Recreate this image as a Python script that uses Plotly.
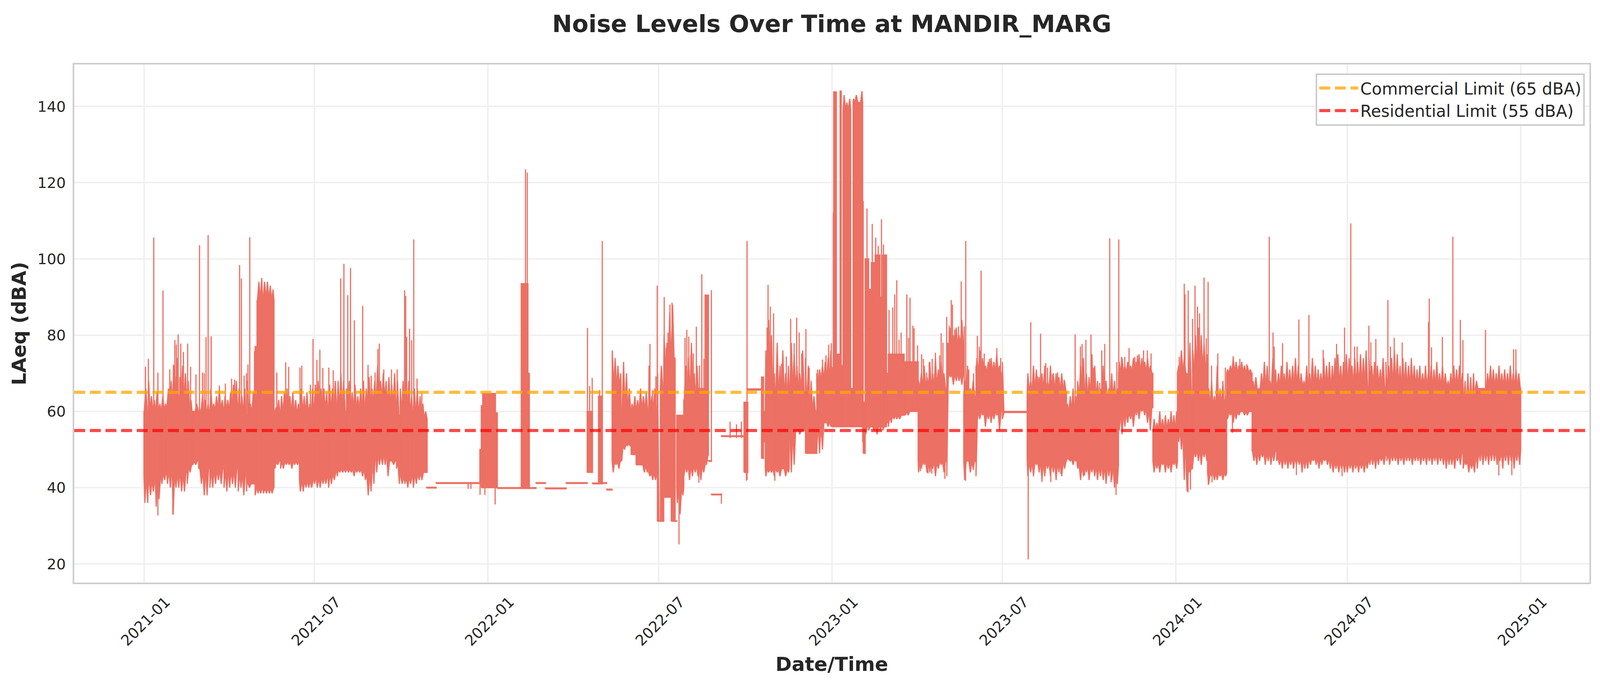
import pandas as pd
import plotly.graph_objects as go

START = pd.Timestamp("2021-01-01")

# Solid part of the series: days since 2021-01-01 and dBA.
seg_start = [0,5,12,18,24,30,38,46,51,58,70,85,100,108,110,118,120,126,138.5,145,165,180,195,205,215,234,242,246,258,268,272,285,
             300,310,356.5,358,359.5,373,375,400.4,404,407.5,409,416,426,448,470.4,476,482.4,486.4,491,
             496.8,506.3,517,522.3,535.6,544.9,548.1,551.6,559.6,563.6,565.4,572.9,588.9,595.5,599,602.2,612.8,636.8,640.8,655.4,657.5,659.4,670,684.7,702,714,
             730,732,734.8,738.8,740,742,750,752.6,762.7,763.3,765.4,769,772,776,781,784,788,790,806.7,821.6,852,870,883,911,937.3,979,990.3,1034.2,1052,1070.7,1096.8,1106,1112.8,
             1128.7,1149,1176,1202,1260,1300,1318,1319,1400,1413]
seg_end = [5,12,18,24,30,38,46,51,58,70,85,100,108,110,118,120,126,138,145,165,180,195,205,215,234,242,246,258,268,272,285,300.5,
           310,356.5,358,359.5,373,375,400.4,404,407.5,409,416,426,448,470.4,476,482.4,486.4,491,496.8,
           506.3,517,522.3,535.6,544.9,548.1,551.6,559.6,563.6,565.4,572.9,588.9,595.5,599,602.2,612.8,636.8,640.8,655.4,657.5,659.4,670,684.7,702,714,730,
           732,734.8,738.8,740,742,750,752.6,762.7,763.3,765.4,769,772,776,781,784,788,790,806.7,821.6,852,870,883,911,937,979,990.3,1034.2,1052,1070.7,1096.8,1106,1112.8,1128.7,
           1149,1176,1202,1260,1300,1318,1319,1400,1413,1461]
seg_low = [43,42,43,44,45,44,44,46,47,45,45,45,44,52,41,40,40,40,47,47,42,43,44,45,45,44,49,49,47,47,43,44,
           39.9,41.1,41,40,40,40,39.8,39.8,39.8,39.8,39.8,41.1,39.7,41.1,44,41,41,41.1,39.4,
           47,51.4,48.7,46,44,31.2,31.2,37.5,31.2,31.2,40,46,46,48.6,46.9,38.1,53.4,44,65.6,47.7,52,45,45,55,49,57.3,
           56,56,56,56,56,56,56,56,52,49,56,56,56,56,56,56,57,59,60,47,70,47,60,59.7,47,47.5,46,60,61,47,55,45,50,
           44,60,49.5,48,47,48.5,51,49,47,50]
seg_high = [60,60,60,60,61,64,63,60,60,59,60,60,59,59,59,77,89,89,59,59,59,60,60,60,60,61,62,63,61,59,59,58,
            40.1,41.3,50,61.5,64.7,59.6,40,93.5,93.5,70,40,41.3,39.9,41.3,60,41.2,64,41.3,39.6,
            66,60,60,60,60,31.3,66,70,74,31.3,59,63,66,90.5,47.1,38.3,53.6,62.4,65.9,69,60,63,63,65,60,68,
            71.5,143.8,75,144,72,139,66,141,115,62.4,100,92,99,101,90,101,70,75,73,66,77,64,70,60,65,59.5,63,70,70,55,70,64,70,
            61,70,65.5,66,66.5,66.5,66.5,66,61,66]

# Peaks rising out of the solid part.
peak_day = [1.6,4.7,10.4,14.8,20.2,27.4,31.2,32.8,34.4,36.3,39.1,41.9,46.4,49.5,55.2,59,62.1,64,65.9,68.1,71.3,80.1,86.4,93,96.2,101.5,103.4,106.3,108.8,110.4,112.3,117.3,
            141,150.4,153.6,165.6,167.5,176.6,179.4,183.5,186.7,189.8,196.2,200.9,208.8,212.2,216.3,219.2,223.3,232.1,237.8,241.2,245.3,248.2,249.8,254.5,262.7,268.7,276.6,277.8,278.8,281.9,284.1,286.3,289.8,294.9,
            404.9,406.8,537,539.6,543.3,544.7,552.1,554.2,556.1,558.2,560.4,563.6,574.2,576.1,578.2,580.3,583,586.2,589.6,592,594.2,
            661.3,662.3,664.7,666.6,668.2,671.9,676.7,681.7,686.3,690,692.7,695.3,698,702.5,706,714.8,720.1,723.8,726.7,729.4,731.6,
            767.3,772.9,776.6,779.2,782.7,784.8,786.7,790.7,794.7,796.8,798.9,801.3,803.5,806.9,809.6,811.4,813,816,817.3,821,825.3,827.2,830.6,833.3,836.5,839.9,844.5,846,847.9,
            851.9,854.5,856.7,858,860.4,864.4,867.3,870.5,872.1,875.3,880.4,884.4,886.5,888.4,891.8,897.2,905.1,909.1,
            941.1,948.3,951.5,957,958.9,964.2,969.6,976.5,988.2,993.8,995.6,999.6,1005,1007.6,1014.3,1016.4,1019.6,1024.9,1027.6,1032.4,1034.5,1037.4,1040.9,1045.4,1051.5,1054.2,1060.8,1064.8,1068.8,
            1098.7,1104,1104.8,1108.2,1110.1,1112.8,1115.4,1118,1120.2,1125,1127.4,1129.3,1133,1139.6,1147.6,1155.9,1163,1170.3,
            1194.2,1198.2,1199.5,1208.3,1225.6,1236.3,1251.4,1265.6,1274.1,1280.7,1284.7,1287.4,1299.9,1302,1307.3,1320.1,1322.8,1326.8,1335.3,1363.2,1364,1366.4,1377.9,1389,1397,1399.7,1423.7,1453.5,1455.9]
peak_val = [71.7,73.8,105.6,70.2,91.7,71,72.3,78.7,77.5,80.2,77.8,75.6,77.8,71.7,69.7,103.6,70.2,70,79.5,106.2,79.7,66.8,67.3,68.6,68.3,98.4,94.9,69.4,70,72.3,105.7,75.8,
            70.2,72.9,71.7,71.5,72,67,79,73.5,76.2,71.4,71.5,70.8,94.9,98.7,90.5,97.6,83.9,87.7,72.2,69.4,70.2,76.4,77.8,71,71,71,91.8,90.3,79.6,81.7,78.7,105.1,68.6,64.8,
            123.5,122.6,77.7,65.6,69.2,93,90,76.6,80.7,88,88.5,73.8,79.3,81.4,79.6,74.7,75.2,82.2,72,96,73.8,
            82,93.2,87.5,73.8,85.7,74.7,72.5,74.4,84.3,77.9,84.6,80.7,75.2,81.6,71.5,71,73.6,74.7,77.5,77.9,112.2,
            113.2,109.2,105.6,103.4,110.4,103.8,101,86.6,87.3,90.7,94.4,78.8,80.7,71.5,90.7,79.3,89.8,82.5,81.8,77.3,75,73.8,70.2,72.9,73.8,75.4,74.7,80.5,78,
            84.8,82.5,89.2,88,81.5,82.3,94.1,82.3,104.7,71,70,79.8,77,96.9,75.2,73.8,76.6,74,
            83.4,69.2,80.4,72.7,71.5,69.7,70.2,68.3,80.2,77,77.7,78.8,80.2,71.5,67.5,76,77.7,105.4,67.5,72.9,105.1,74.3,74.3,76.6,74.3,74.7,76,76,75.2,
            74.3,93.5,90.7,91.7,76,84.3,93,87.5,85.7,95.1,79.2,94,72,75.2,71.5,74.5,73.8,72.4,
            105.8,80.7,77,77.9,84.1,85.3,76.1,77.7,82,109.3,77,77,82.5,78.1,79,89.2,77,79.3,78.1,83.4,89.6,76.8,79.5,105.8,84,78.7,81.4,76.3,76.3]

# Dips falling out of the solid part.
dip_day = [14.8,30.6,356.7,361.8,372.7,567.8,588.9,639.4,669.5,
           824,832,836,850,871.9,880.1,938.4,953,962.4,973,998.3,1011.6,1026.3,1031.6,1108,1110.6,1129.5,1133.5,
           1223,1271.5,1437.8,1451.6]
dip_val = [32.7,32.9,38.1,38.1,35.6,25.1,41.3,41.8,41.8,
           44.3,43.7,43.7,42.3,41.8,44.6,21.2,41.5,41.5,43.6,43.2,42.3,41.4,38.1,38.8,39.5,40.7,41.4,
           43.3,43,43.2,43.3]

# Finer reading of the jagged upper and lower edge, one reading every third day per stretch.
upper_first = [2,497,549,575,660,743,753,822,853,871,884,938,980,991,1035,1072,1098,1130,1150,1177]
upper_edges = [
 [66,68,64,63,65,62,64,62,66,68,72,74,69,72,70,68,63,60,62,61,64,63,62,66,62,64,66,63,64,63,65,67,68,66,64,66,68,62,65,72,
  94,95,94,94,93,92,61,63,64,65,66,64,65,63,62,66,64,65,62,66,67,68,66,66,65,67,66,68,68,70,68,66,68,65,67,64,66,68,66,69,
  66,68,72,68,70,68,69,67,70,68,66,68,72,68,64,66,66,64,62,60],
 [76,74,72,70,73,70,66,62,64,63,66,64,65,72,64,66,70],
 [72,80,78,86,88],
 [72,74,78,70,72],
 [76,84,80,70,78,72,76,70,72,78,75,72,70,76,74,72,68,64,70,71,72,73,74,76],
 [143,141,142],
 [142,143,141,144],
 [68,70,72,69,73,70,74,71,73,70,72],
 [78,82,80,82,80,84],
 [68,72,66,68,72],
 [74,76,74,72,73,74,73,75,72,73],
 [70,68,72,71,69,70,72,68,72,70,70,69,70,68],
 [62,64,66,64],
 [68,72,74,70,69,75,72,68,66,72,68,66,70,68,66],
 [73,74,72,73,72,74,73,75,74,73,74,72],
 [58,57,60,58,59,58,60,59,60],
 [72,76,74,70,78,76,80,82,80,78,75],
 [66,68,64,72,66,68,64],
 [71,72,74,73,72,73,72,72,71],
 [68,69,66,70,73,72,68,74,71,70,72,70,73,71,72,74,72,70,68,72,70,74,72,71,70,74,72,73,72,74,
  75,72,73,75,74,72,74,73,75,74,76,74,72,73,72,71,74,73,72,74,76,75,72,74,73,72,74,72,71,72,
  70,72,70,72,71,73,70,72,70,68,70,72,71,72,70,68,70,69,70,68,66,65,66,70,72,71,70,72,70,71,70,72,70,71,70],
]
lower_first = [1,498,566,573,660,766,822,853,871,884,938,980,991,1035,1072,1098,1130,1150,1178]
lower_edges = [
 [36,36,38,39,35,37,41,42,41,40,33,40,40,39,39,41,44,46,46,45,41,38,38,40,40,41,42,41,40,39,40,41,40,39,40,38,39,40,41,38,
  38.5,38.5,38.5,38.5,38.5,38.5,45,46,45,45,46,46,45,46,46,39,39,40,40,40,41,40,40,41,41,40,41,42,43,44,44,44,44,44,43,44,44,43,42,38,
  39,41,44,46,46,46,43,47,46,45,41,41,41,40,41,40,41,42,42,44],
 [44,46,45,47,50,51,51,51,50,47,46,44,44,43,42,42],
 [36,33,38],
 [43,44,42,43,44,43,42,44,46],
 [43,44,44,43,44,43,45,43,44,44,46,55,54,55,54,53,49,49,50,49,50,57,56,56],
 [54,55,56,55,54,55,55,56,56,57,58,58,58,59,59,59,60,60,60],
 [44,45,46,44,44,45,43,45,46,44,43],
 [68,69,67,68,68,67],
 [42,47,44,45,43],
 [57,58,59,56,58,57,58,59,55,58],
 [43,44,43,46,44,42,43,45,43,44,42,44,43,45],
 [48,47,46,47],
 [45,42,43,44,42,44,43,42,43,42,41,43,42,40,41],
 [55,54,56,57,58,56,59,58,60,59,57,55],
 [44,45,44,46,44,45,44,46,45],
 [52,50,42,39,44,46,48,47,46,48,47],
 [41,43,42,42,43,42,43],
 [58,59,57,58,59,60,59,59,60],
 [47,46,47,48,46,47,46,47,47,46,45,46,45,46,45,46,46,44,45,45,46,47,46,45,46,47,46,45,44,45,
  44,45,44,44,45,44,45,44,45,44,45,46,46,45,46,47,46,47,46,47,47,46,47,46,47,47,46,47,47,46,
  47,46,47,46,47,46,47,46,45,46,46,45,47,46,45,46,44,45,44,45,47,46,47,46,47,47,46,47,45,47,46,47,45,47,46],
]

# Peaks and dips standing on a quiet stretch: day, upper and lower reading.
lone_day = [344,347,470.7,473,475.7,483.5,486.4,602.2,612.8,622,628.8,634,640,1155.1]
lone_top = [41,41,81.9,66.7,68.8,65.6,104.7,91.8,38.5,57.3,56.6,57.3,104.7,60]
lone_low = [39.7,39.7,44,45,45,41,41,47,35.8,53,53,53,42,54.4]

tick_dates = ["2021-01-01","2021-07-01","2022-01-01","2022-07-01","2023-01-01","2023-07-01","2024-01-01","2024-07-01","2025-01-01"]
tick_text = ["2021-01","2021-07","2022-01","2022-07","2023-01","2023-07","2024-01","2024-07","2025-01"]
y_ticks = [20,40,60,80,100,120,140]
commercial_limit = 65
residential_limit = 55
x_range = ["2020-10-19","2025-03-15"]
y_range = [15.1,151]

COLOR = "#ec7063"
FONT = "DejaVu Sans"
INK = "#262626"

def day(d):
    return START + pd.to_timedelta(d, unit="D")

def seg_at(d):
    for i, (a, b) in enumerate(zip(seg_start, seg_end)):
        if a <= d < b:
            return i
    return None

fig = go.Figure()

# Blocks plus jagged teeth along their edges, all one filled shape set.
bx, by = [], []
for a, b, l, h in zip(seg_start, seg_end, seg_low, seg_high):
    bx += [day(a), day(b), day(b), day(a), day(a), None]
    by += [l, l, h, h, l, None]
HALF = 1.6
for first, edge in zip(upper_first, upper_edges):
    for k, v in enumerate(edge):
        d = first + 3 * k
        i = seg_at(d)
        if i is not None and v > seg_high[i]:
            a, b = max(d - HALF, seg_start[i]), min(d + HALF, seg_end[i])
            bx += [day(a), day(d), day(b), day(a), None]
            by += [seg_high[i], v, seg_high[i], seg_high[i], None]
for first, edge in zip(lower_first, lower_edges):
    for k, v in enumerate(edge):
        d = first + 3 * k
        i = seg_at(d)
        if i is not None and v < seg_low[i]:
            a, b = max(d - HALF, seg_start[i]), min(d + HALF, seg_end[i])
            bx += [day(a), day(d), day(b), day(a), None]
            by += [seg_low[i], v, seg_low[i], seg_low[i], None]
fig.add_trace(go.Scatter(x=bx, y=by, mode="lines", fill="toself", fillcolor=COLOR,
                         line=dict(color=COLOR, width=3), showlegend=False, hoverinfo="skip"))

sx, sy = [], []
for d, v in zip(peak_day, peak_val):
    i = seg_at(d)
    if i is not None and v > seg_high[i]:
        sx += [day(d), day(d), None]; sy += [seg_high[i], v, None]
for d, v in zip(dip_day, dip_val):
    i = seg_at(d)
    if i is not None and v < seg_low[i]:
        sx += [day(d), day(d), None]; sy += [seg_low[i], v, None]
for d, t, l in zip(lone_day, lone_top, lone_low):
    sx += [day(d), day(d), None]; sy += [l, t, None]
fig.add_trace(go.Scatter(x=sx, y=sy, mode="lines", line=dict(color=COLOR, width=3),
                         showlegend=False, hoverinfo="skip"))

fig.add_trace(go.Scatter(x=x_range, y=[commercial_limit] * 2, mode="lines",
                         name="Commercial Limit (65 dBA)",
                         line=dict(color="rgba(255,165,0,0.75)", width=8, dash="28px,12px")))
fig.add_trace(go.Scatter(x=x_range, y=[residential_limit] * 2, mode="lines",
                         name="Residential Limit (55 dBA)",
                         line=dict(color="rgba(255,0,0,0.72)", width=8, dash="28px,12px")))

fig.update_layout(
    width=4096, height=1771, autosize=False,
    margin=dict(l=190, r=27, t=165, b=280, autoexpand=False),
    plot_bgcolor="white", paper_bgcolor="white",
    font=dict(family=FONT, color=INK, size=38),
    title=dict(text="<b>Noise Levels Over Time at MANDIR_MARG</b>", x=0.5, xref="paper", xanchor="center",
               y=0.966, yanchor="middle", font=dict(size=61, family=FONT, color=INK)),
    legend=dict(x=0.997, xanchor="right", y=0.983, yanchor="top",
                bgcolor="rgba(255,255,255,0.8)", bordercolor="#cccccc", borderwidth=4,
                font=dict(size=42, family=FONT, color=INK), itemwidth=100, tracegroupgap=0),
    xaxis=dict(type="date", range=x_range, tickmode="array", tickvals=tick_dates, ticktext=tick_text,
               tickangle=-45, ticks="", showgrid=True, gridcolor="#f0f0f0", gridwidth=4,
               showline=True, mirror=True, linecolor="#cccccc", linewidth=4, zeroline=False,
               ticklabelshift=56, ticklabelstandoff=8,
               title=dict(text="<b>Date/Time</b>", font=dict(size=50, family=FONT, color=INK), standoff=22)),
    yaxis=dict(range=y_range, tickmode="array", tickvals=y_ticks, ticks="", showgrid=True,
               gridcolor="#f0f0f0", gridwidth=4, showline=True, mirror=True, linecolor="#cccccc",
               linewidth=4, zeroline=False, ticklabelstandoff=10,
               title=dict(text="<b>LAeq (dBA)</b>", font=dict(size=50, family=FONT, color=INK), standoff=14)),
)

fig.write_html("out.html", config={"displayModeBar": False},
               post_script="document.body.style.margin='0';document.documentElement.style.overflow='hidden';")
